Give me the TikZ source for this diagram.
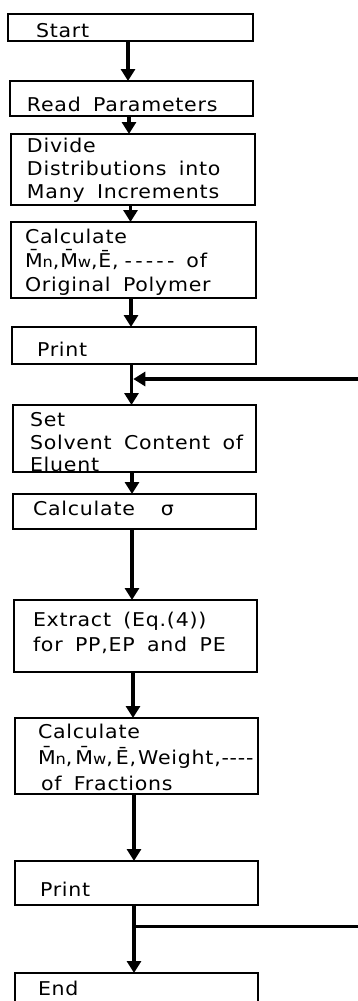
\documentclass[tikz,border=0pt]{standalone}
\usepackage{fontspec}
\setmainfont{DejaVu Sans}[FakeStretch=1.08,LetterSpace=4,WordSpace=1.7]
\usetikzlibrary{arrows.meta,calc}
\newcommand\sbs[1]{{\fontsize{15}{15}\selectfont #1}}
\begin{document}
\begin{tikzpicture}[x=1pt,y=-1pt,
  box/.style={draw, line width=1.7pt, inner sep=0pt, outer sep=0pt, anchor=north west},
  txt/.style={inner sep=0pt, outer sep=0pt, align=left, font=\fontsize{19}{23}\selectfont},
  flow/.style={line width=3.6pt, -{Triangle[width=14pt,length=12pt]}},
  loopline/.style={line width=3pt}]
\useasboundingbox (0,0) rectangle (358,1001);
\fill[white] (0,0) rectangle (358,1001);
\clip (0,0) rectangle (358,1001);
% boxes
\node[box, minimum width=245pt, minimum height=27pt] (start) at (8,14) {};
\node[box, minimum width=243pt, minimum height=35pt] (read) at (10,81) {};
\node[box, minimum width=244pt, minimum height=71pt] (divide) at (11,134) {};
\node[box, minimum width=245pt, minimum height=76pt] (calc1) at (11,222) {};
\node[box, minimum width=244pt, minimum height=37pt] (print1) at (12,327) {};
\node[box, minimum width=243pt, minimum height=67pt] (set) at (13,405) {};
\node[box, minimum width=243pt, minimum height=35pt] (calcs) at (13,494) {};
\node[box, minimum width=243pt, minimum height=72pt] (extract) at (14,600) {};
\node[box, minimum width=243pt, minimum height=76pt] (calc2) at (15,718) {};
\node[box, minimum width=243pt, minimum height=44pt] (print2) at (15,861) {};
\node[box, minimum width=243pt, minimum height=60pt] (end) at (15,973) {};
% texts
\node[txt, anchor=base west] (start-t) at (36,37) {Start};
\node[txt, anchor=base west] (read-t) at (27,111) {Read Parameters};
\node[txt, anchor=north west] (divide-t) at (27,138.3) {Divide\\Distributions into\\Many Increments};
\node[txt, anchor=north west, font=\fontsize{19}{24}\selectfont] (calc1-t) at (25,228.6) {Calculate\\M̄\sbs{n},M̄\sbs{w},Ē,\hspace{6pt}-\,-\,-\,-\,-\hspace{12pt}of\\Original Polymer};
\node[txt, anchor=base west] (print1-t) at (37,356) {Print};
\node[txt, anchor=north west, font=\fontsize{19}{22.5}\selectfont] (set-t) at (30,412.6) {Set\\Solvent Content of\\Eluent};
\node[txt, anchor=base west] (calcs-t) at (33,515) {Calculate\hspace{26pt}σ};
\node[txt, anchor=north west, font=\fontsize{19}{25}\selectfont] (extract-t) at (33,612.3) {Extract (Eq.(4))\\for PP,EP and PE};
\node[txt, anchor=north west, font=\fontsize{19}{26}\selectfont] (calc2-t) at (38,723.9) {Calculate\\M̄\sbs{n},\hspace{3pt}M̄\sbs{w},\hspace{3pt}Ē,\hspace{2pt}Weight,-{}-{}-{}-\\\hspace*{3pt}of Fractions};
\node[txt, anchor=base west] (print2-t) at (40,896) {Print};
\node[txt, anchor=base west] (end-t) at (38,995) {End};
% connectors
\foreach \a/\b in {start/read, read/divide, divide/calc1, calc1/print1, print1/set, set/calcs, calcs/extract, extract/calc2, calc2/print2, print2/end}{
  \draw[flow] ([xshift=-2.5pt]\a.south) -- ([xshift=-2.5pt]\a.south |- \b.north);
}
\coordinate (sp1) at ([xshift=-2.5pt]print1.south);
\coordinate (sp2) at ([xshift=-2.5pt]print2.south);
\coordinate (loopin) at (358,379);
\coordinate (loopout) at (358,926);
\coordinate (j1) at ($(sp1 |- loopin)+(1.8,0)$);
\coordinate (j2) at (sp2 |- loopout);
\draw[flow] (loopin) -- (j1);
\draw[loopline] (j2) -- (loopout);
\end{tikzpicture}
\end{document}
